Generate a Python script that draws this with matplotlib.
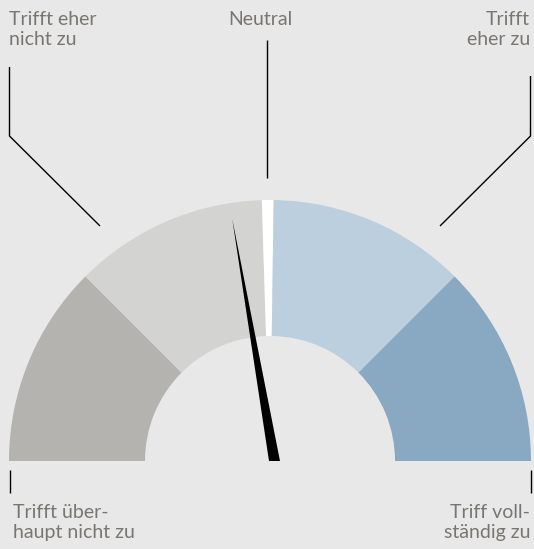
import numpy as np
import matplotlib
matplotlib.use("Agg")
import matplotlib.pyplot as plt
from matplotlib.patches import Wedge, Polygon

# ---- data ----
categories = ["Trifft überhaupt nicht zu", "Trifft eher nicht zu", "Neutral",
              "Trifft eher zu", "Trifft vollständig zu"]
# segment spans in degrees of the half circle (left -> right)
segment_spans = [45.0, 43.2, 2.6, 44.2, 45.0]
segment_colors = ["#b4b3b0", "#d3d3d2", "#ffffff", "#bccfde", "#89a8c1"]
needle_value = 2.78          # on a 1..5 scale
scale_min, scale_max = 1, 5

label_texts = ["Trifft über-\nhaupt nicht zu", "Trifft eher\nnicht zu", "Neutral",
               "Trifft\neher zu", "Triff voll-\nständig zu"]

BG = "#e8e8e8"
TXT = "#797672"
plt.rcParams['font.family'] = ['Lato', 'DejaVu Sans']

fig = plt.figure(figsize=(5.34, 5.49), dpi=100, facecolor=BG)
ax = fig.add_axes([0, 0, 1, 1])
ax.set_facecolor(BG)
ax.set_xlim(-270, 264)
ax.set_ylim(-88, 461)
ax.set_aspect('equal')
ax.axis('off')

R_OUT, R_IN = 261, 125
start = 180.0
for span, col in zip(segment_spans, segment_colors):
    ax.add_patch(Wedge((0, 0), R_OUT, start - span, start, width=R_OUT - R_IN,
                       facecolor=col, edgecolor='none'))
    start -= span

# needle
ang = np.deg2rad(180 - (needle_value - scale_min) / (scale_max - scale_min) * 180)
pivot_x = 4.5
L = 246
tip = (pivot_x + L * np.cos(ang), L * np.sin(ang))
ax.add_patch(Polygon([tip, (pivot_x - 5.5, 0), (pivot_x + 5.5, 0)],
                     closed=True, facecolor='black', edgecolor='none'))

lw = 1.0
# leader lines (pixel-derived layout, center at (270,461))
def P(px, py):
    return (px - 270, 461 - py)

def line(pts):
    xs, ys = zip(*[P(*p) for p in pts])
    ax.plot(xs, ys, color='black', lw=lw, solid_capstyle='butt')

line([(100, 226), (9.5, 136), (9.5, 67)])
line([(440, 226), (530.5, 136), (530.5, 76)])
line([(266.5, 178), (266.5, 40)])
line([(9.5, 470), (9.5, 493)])
line([(530.5, 470), (530.5, 493)])

fs = 14
def txt(px, py, s, ha):
    x, y = P(px, py)
    ax.text(x, y, s, ha=ha, va='top', fontsize=fs, color=TXT, linespacing=1.22)

txt(9, 11, label_texts[1], 'left')
txt(260, 11, label_texts[2], 'center')
txt(530, 11, label_texts[3], 'right')
txt(13, 504, label_texts[0], 'left')
txt(530, 504, label_texts[4], 'right')

fig.savefig("out.png", dpi=100, facecolor=BG)
